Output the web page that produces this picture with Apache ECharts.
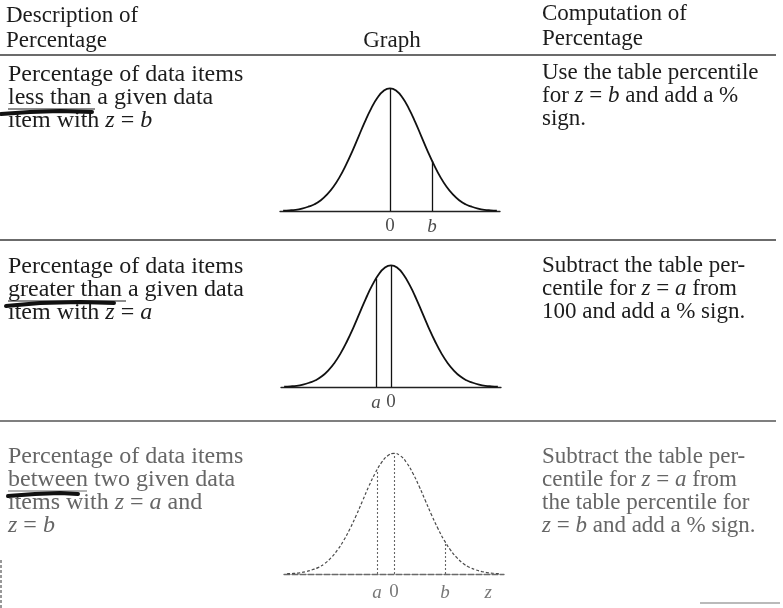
<!DOCTYPE html>
<html>
<head>
<meta charset="utf-8">
<title>Percentages under the normal curve</title>
<script src="https://cdn.jsdelivr.net/npm/echarts@6/dist/echarts.min.js"></script>
<style>
  html, body { margin: 0; padding: 0; background: #fff; }
  #chart { width: 783px; height: 608px; }
</style>
</head>
<body>
<div id="chart"></div>
<script>
// bell curve (z from -3.4 to 3.4 in steps of 0.2)
var zGrid = [-3.4, -3.2, -3.0, -2.8, -2.6, -2.4, -2.2, -2.0, -1.8, -1.6, -1.4, -1.2, -1.0, -0.8, -0.6, -0.4, -0.2,
             0, 0.2, 0.4, 0.6, 0.8, 1.0, 1.2, 1.4, 1.6, 1.8, 2.0, 2.2, 2.4, 2.6, 2.8, 3.0, 3.2, 3.4];
var curveHeights = [0.001, 0.002, 0.004, 0.008, 0.014, 0.022, 0.035, 0.054, 0.079, 0.111, 0.150, 0.194, 0.242, 0.290, 0.333, 0.368, 0.391,
                    0.399, 0.391, 0.368, 0.333, 0.290, 0.242, 0.194, 0.150, 0.111, 0.079, 0.054, 0.035, 0.022, 0.014, 0.008, 0.004, 0.002, 0.001];

// vertical lines in each graph (z position, height where it meets the curve)
var lessMarks = [0, 1.34];
var lessMarkHeights = [0.399, 0.163];
var greaterMarks = [-0.48, 0];
var greaterMarkHeights = [0.355, 0.399];
var betweenMarks = [-0.54, 0, 1.62];
var betweenMarkHeights = [0.344, 0.399, 0.107];

// tick labels under each graph
var lessTicks = [0, 1.34];
var lessTickLabels = ['0', 'b'];
var greaterTicks = [-0.48, 0];
var greaterTickLabels = ['a', '0'];
var betweenTicks = [-0.54, 0, 1.62, 3.0];
var betweenTickLabels = ['a', '0', 'b', 'z'];

// table text
var headLeft = ['Description of', 'Percentage'];
var headMid = 'Graph';
var headRight = ['Computation of', 'Percentage'];
var row1Left = ['Percentage of data items', 'less than a given data', 'item with {i|z} = {i|b}'];
var row1Right = ['Use the table percentile', 'for {i|z} = {i|b} and add a %', 'sign.'];
var row2Left = ['Percentage of data items', 'greater than a given data', 'item with {i|z} = {i|a}'];
var row2Right = ['Subtract the table per-', 'centile for {i|z} = {i|a} from', '100 and add a % sign.'];
var row3Left = ['Percentage of data items', 'between two given data', 'items with {i|z} = {i|a} and', '{i|z} = {i|b}'];
var row3Right = ['Subtract the table per-', 'centile for {i|z} = {i|a} from', 'the table percentile for', '{i|z} = {i|b} and add a % sign.'];

var FONT = '"Liberation Serif", "DejaVu Serif", serif';
var INK = '#1c1c1c';
var FADED = '#666';

var chart = echarts.init(document.getElementById('chart'));

function textLines(lines, x, y0, step, color, size) {
    size = size || 24;
    return lines.map(function (t, i) {
        return {
            type: 'text',
            x: x,
            y: y0 + i * step,
            silent: true,
            style: {
                text: t,
                fill: color,
                fontFamily: FONT,
                fontSize: size,
                verticalAlign: 'middle',
                rich: {
                    i: { fontFamily: FONT, fontSize: size, fontStyle: 'italic', fill: color }
                }
            }
        };
    });
}

function rule(x1, y1, x2, y2, w, color) {
    return { type: 'line', silent: true, shape: { x1: x1, y1: y1, x2: x2, y2: y2 },
             style: { stroke: color || '#3a3a3a', lineWidth: w || 1.3 } };
}

function scribble(points, w) {
    return { type: 'polyline', silent: true, shape: { points: points },
             style: { stroke: '#111', lineWidth: w, lineCap: 'round', lineJoin: 'round', fill: null } };
}

var graphic = []
    .concat(textLines(headLeft, 6, 16, 25, INK, 23))
    .concat(textLines(headRight, 542, 14, 25, INK, 23))
    .concat([{ type: 'text', x: 392, y: 41, silent: true,
               style: { text: headMid, fill: INK, fontFamily: FONT, fontSize: 23, align: 'center', verticalAlign: 'middle' } }])
    .concat(textLines(row1Left, 8, 75, 23, INK))
    .concat(textLines(row1Right, 542, 73, 23, INK, 23))
    .concat(textLines(row2Left, 8, 267, 23, INK))
    .concat(textLines(row2Right, 542, 266, 23, INK, 23))
    .concat(textLines(row3Left, 8, 457, 23, FADED))
    .concat(textLines(row3Right, 542, 457, 23, FADED, 23))
    .concat([
        // row separators
        rule(0, 55, 776, 55, 1.4),
        rule(0, 240, 776, 240, 1.3),
        rule(0, 421, 776, 421, 1.3, '#555'),
        rule(700, 603, 780, 603, 1.2, '#777'),
        { type: 'line', silent: true, shape: { x1: 1, y1: 560, x2: 1, y2: 608 },
          style: { stroke: '#777', lineWidth: 1.5, lineDash: [3, 2] } },
        // underlines and pen marks
        rule(8, 109, 95, 109, 1, INK),
        scribble([[1, 114], [30, 112], [60, 111], [92, 112]], 4),
        rule(8, 301, 126, 301, 1, INK),
        scribble([[6, 306], [40, 303], [80, 302], [114, 303]], 4),
        rule(8, 491, 87, 491, 1, FADED),
        scribble([[8, 496], [35, 494], [60, 493], [78, 494]], 4)
    ]);

// one small grid per graph
var grids = [
    { left: 280, top: 88, width: 220, height: 123 },
    { left: 281, top: 265, width: 220, height: 122 },
    { left: 284, top: 453, width: 220, height: 121 }
];

function xAxisFor(i, dashed) {
    return {
        gridIndex: i, type: 'value', min: -3.5, max: 3.5,
        axisLine: { show: true, onZero: true, lineStyle: { color: dashed ? '#6a6a6a' : '#222', width: 1.3, type: dashed ? [6, 2] : 'solid' } },
        axisTick: { show: false }, axisLabel: { show: false }, splitLine: { show: false }
    };
}
function yAxisFor(i) {
    return { gridIndex: i, type: 'value', min: 0, max: 0.4, show: false, splitLine: { show: false } };
}

function curveSeries(i, marks, markHeights, faded) {
    var pts = zGrid.map(function (z, k) { return [z, curveHeights[k]]; });
    return {
        type: 'line', xAxisIndex: i, yAxisIndex: i, data: pts,
        smooth: true, showSymbol: false, silent: true, clip: false,
        lineStyle: { color: faded ? '#4a4a4a' : '#111', width: faded ? 1.2 : 1.8, type: faded ? [3, 2] : 'solid' },
        markLine: {
            silent: true, symbol: ['none', 'none'], label: { show: false },
            lineStyle: { color: faded ? '#666' : '#111', width: faded ? 1.1 : 1.3, type: faded ? [2, 2] : 'solid' },
            data: marks.map(function (m, k) {
                return [{ coord: [m, 0] }, { coord: [m, markHeights[k]] }];
            })
        }
    };
}

function tickSeries(i, ticks, labels, faded) {
    return {
        type: 'scatter', xAxisIndex: i, yAxisIndex: i, symbolSize: 0, silent: true,
        data: ticks.map(function (t, k) {
            return { value: [t, 0], name: labels[k],
                     label: { fontStyle: labels[k] === '0' ? 'normal' : 'italic' } };
        }),
        label: {
            show: true, position: 'bottom', distance: faded ? 9 : 6, formatter: '{b}',
            fontFamily: FONT, fontSize: 19, color: faded ? '#555' : INK
        },
        labelLayout: { hideOverlap: false }
    };
}

chart.setOption({
    animation: false,
    backgroundColor: '#fff',
    grid: grids,
    xAxis: [xAxisFor(0, false), xAxisFor(1, false), xAxisFor(2, true)],
    yAxis: [yAxisFor(0), yAxisFor(1), yAxisFor(2)],
    series: [
        curveSeries(0, lessMarks, lessMarkHeights, false),
        tickSeries(0, lessTicks, lessTickLabels, false),
        curveSeries(1, greaterMarks, greaterMarkHeights, false),
        tickSeries(1, greaterTicks, greaterTickLabels, false),
        curveSeries(2, betweenMarks, betweenMarkHeights, true),
        tickSeries(2, betweenTicks, betweenTickLabels, true)
    ],
    graphic: graphic
});
</script>
</body>
</html>
